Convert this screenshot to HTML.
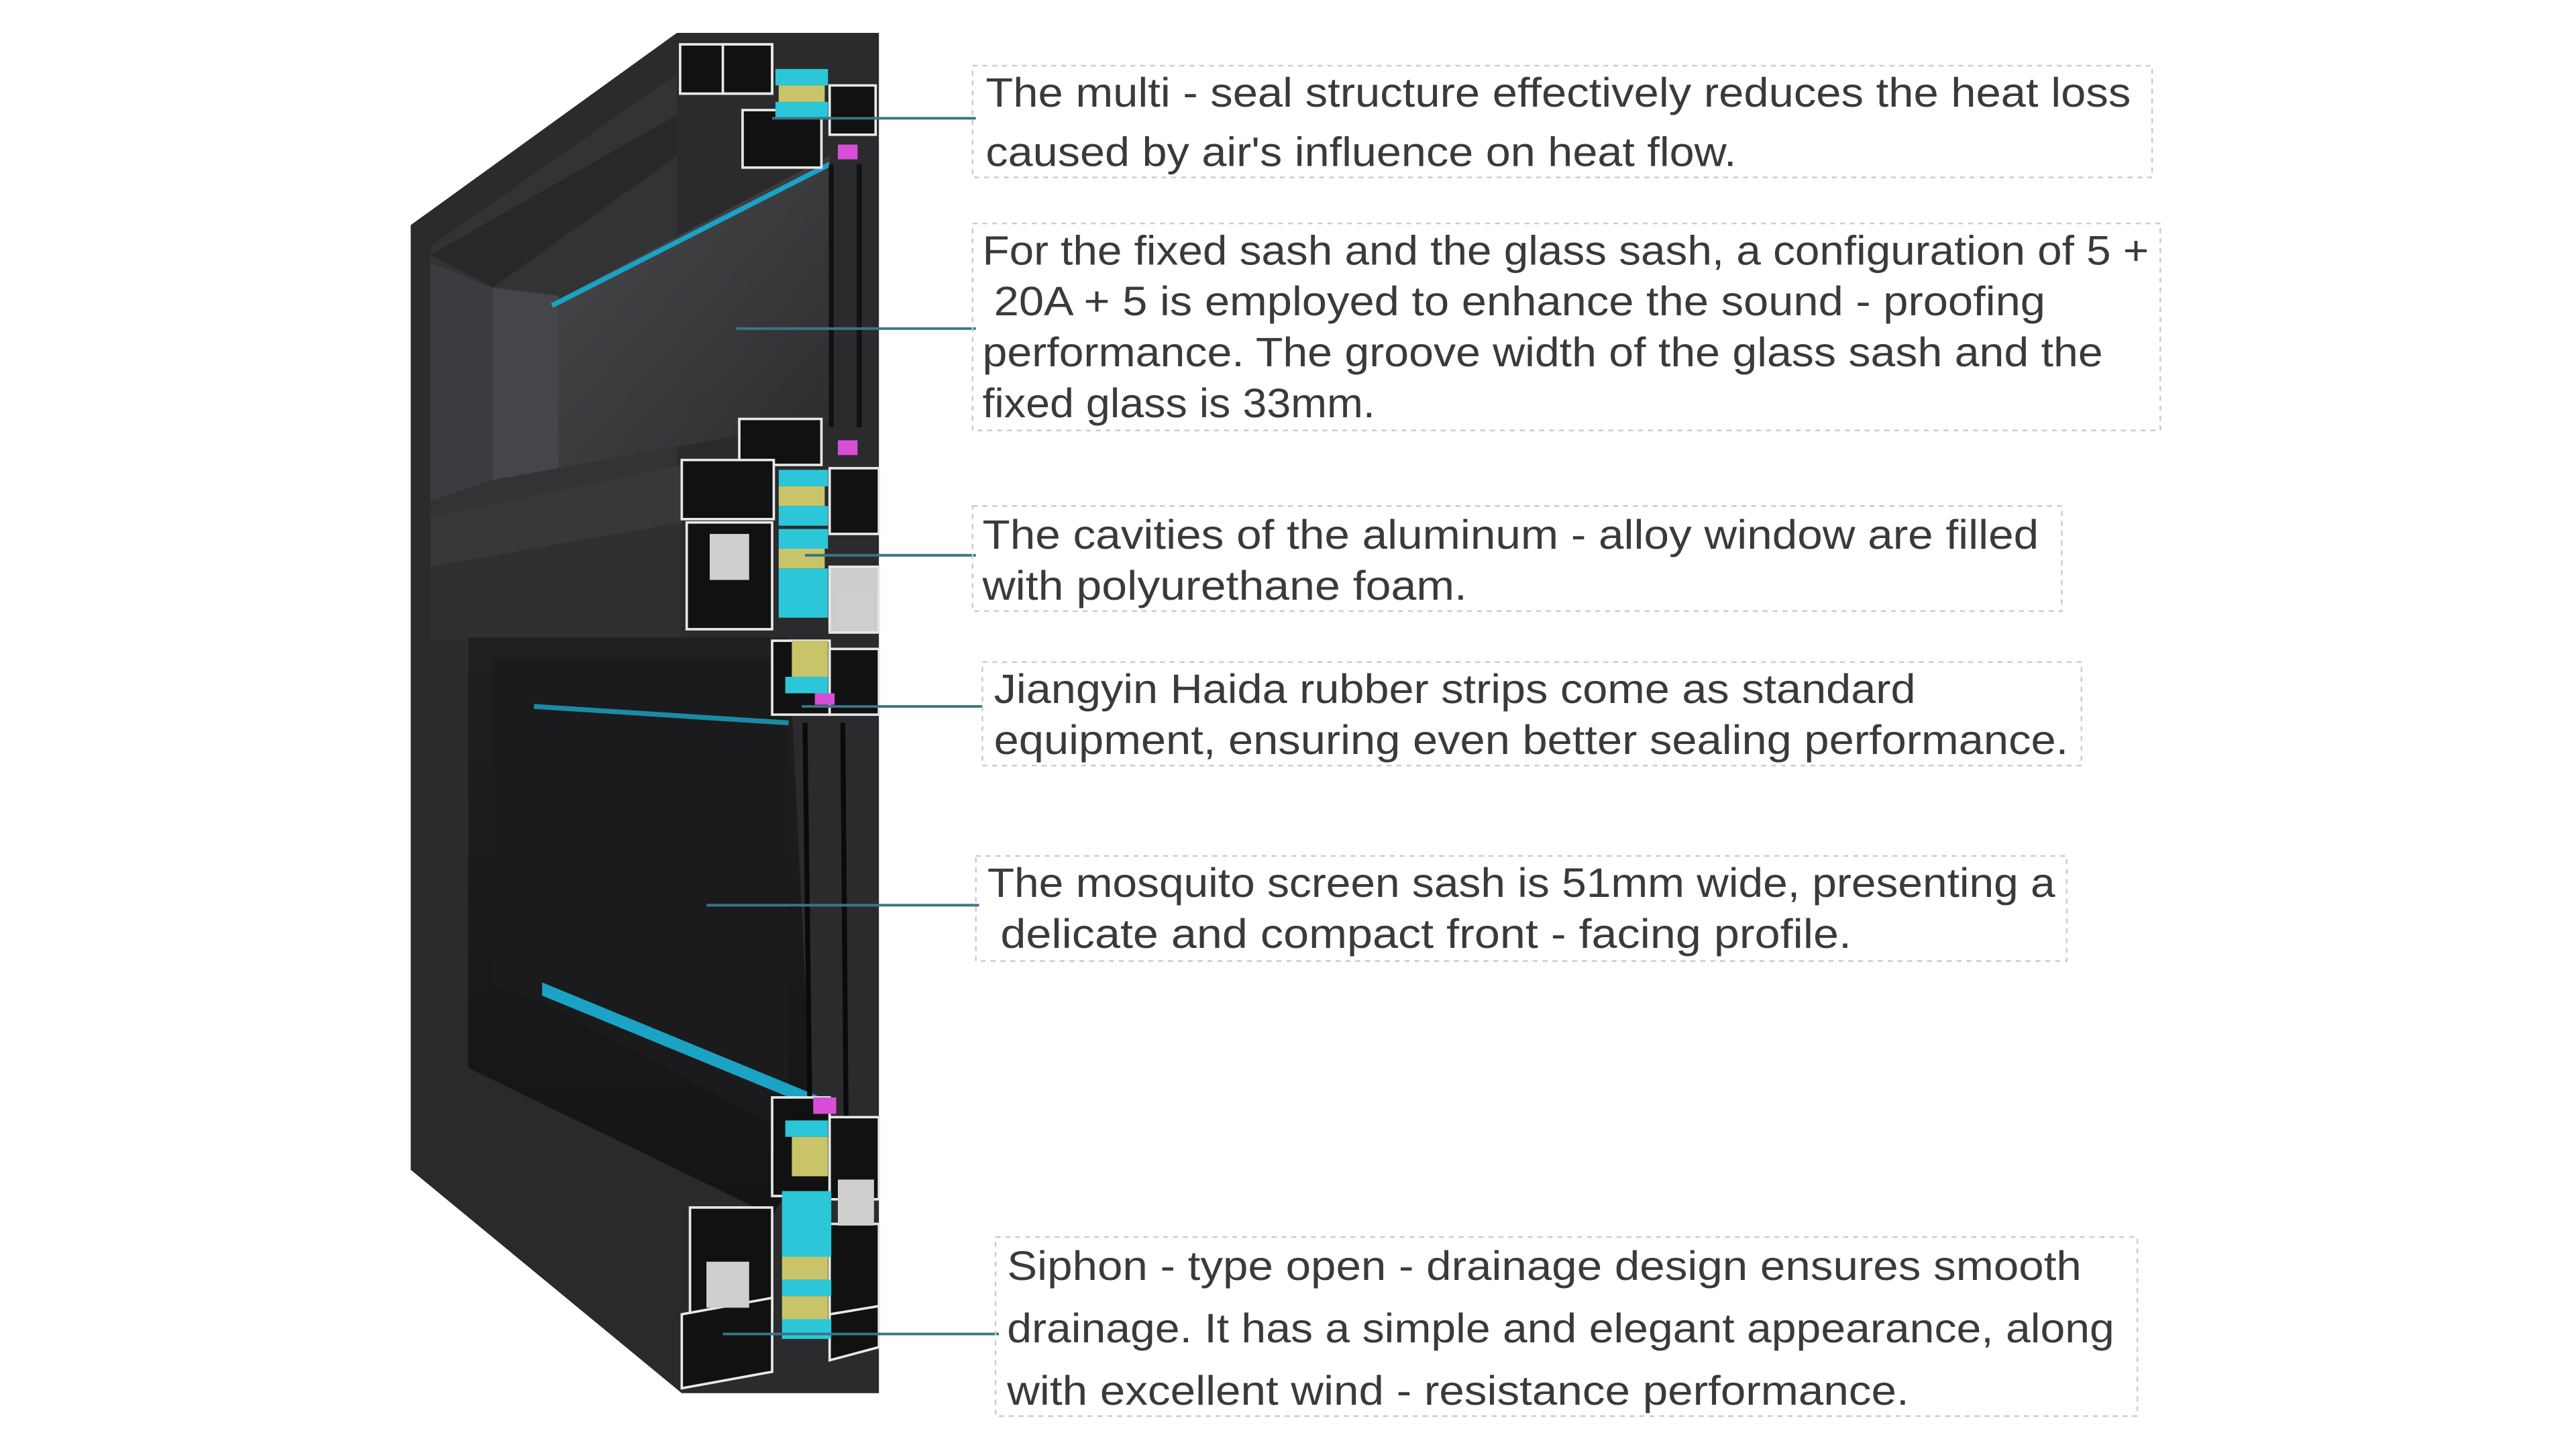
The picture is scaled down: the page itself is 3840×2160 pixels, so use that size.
<!DOCTYPE html>
<html><head><meta charset="utf-8"><style>
html,body{margin:0;padding:0;background:#fff;width:3840px;height:2160px;overflow:hidden}
svg{display:block}
text{font-family:"Liberation Sans",sans-serif;font-size:25px;fill:#3a3a3c}
</style></head><body>
<svg width="3840" height="2160" viewBox="0 0 1568 882" preserveAspectRatio="none">
<defs>
<linearGradient id="glass" x1="0" y1="0" x2="1" y2="1"><stop offset="0" stop-color="#4a4a4d"/><stop offset="1" stop-color="#2c2c2f"/></linearGradient>
<linearGradient id="glass2" x1="0" y1="0" x2="0" y2="1"><stop offset="0" stop-color="#202022"/><stop offset="1" stop-color="#141416"/></linearGradient>
</defs>
<rect width="1568" height="882" fill="#fff"/>
<!-- body -->
<polygon points="250,137 412,20 535,20 535,848 415,848 250,712" fill="#2b2b2d"/>
<polygon points="262,150 412,45 412,290 262,320" fill="#333336"/>
<!-- upper glass recess -->
<polygon points="262,160 300,175 300,292 262,305" fill="#3c3c40"/>
<polygon points="300,175 340,180 340,285 300,292" fill="#45454a"/>
<polygon points="340,182 505,95 505,255 340,285" fill="url(#glass)"/>
<polygon points="262,155 412,70 412,95 300,175" fill="#28282a"/>
<line x1="336" y1="186" x2="505" y2="100" stroke="#1aa3c4" stroke-width="3"/>
<!-- transom -->
<polygon points="262,315 415,283 415,318 262,345" fill="#38383b"/>
<!-- lower opening -->
<polygon points="262,345 415,318 415,390 262,390" fill="#2f2f32"/>
<polygon points="285,388 480,388 495,700 470,740 285,650" fill="url(#glass2)"/>
<polygon points="300,400 480,400 480,690 330,610 300,600" fill="#1b1b1d"/>
<polygon points="262,712 285,650 470,740 415,848 250,712" fill="#2a2a2c"/>
<polygon points="330,598 500,668 500,676 330,606" fill="#1aa3c4"/>
<line x1="325" y1="430" x2="480" y2="440" stroke="#1a8aa6" stroke-width="3"/>
<!-- glass panes vertical -->
<line x1="506" y1="100" x2="506" y2="260" stroke="#111" stroke-width="3"/>
<line x1="523" y1="100" x2="523" y2="260" stroke="#111" stroke-width="3"/>
<line x1="490" y1="440" x2="493" y2="680" stroke="#0a0a0a" stroke-width="3"/>
<line x1="513" y1="440" x2="515" y2="680" stroke="#0a0a0a" stroke-width="3"/>
<!-- top profile -->
<g stroke="#e8e8e8" stroke-width="1.5">
<rect x="414" y="27" width="56" height="30" fill="#111"/>
<rect x="440" y="27" width="30" height="30" fill="none"/>
<rect x="505" y="52" width="28" height="30" fill="#111"/>
<rect x="452" y="67" width="48" height="35" fill="#111"/>
</g>
<rect x="472" y="42" width="32" height="10" fill="#2bc7d9"/>
<rect x="474" y="52" width="28" height="10" fill="#c9c46a"/>
<rect x="472" y="62" width="32" height="10" fill="#2bc7d9"/>
<rect x="510" y="88" width="12" height="9" fill="#d64fd6"/>
<!-- middle profile -->
<g stroke="#e8e8e8" stroke-width="1.5">
<rect x="450" y="255" width="50" height="28" fill="#111"/>
<rect x="415" y="280" width="56" height="36" fill="#111"/>
<rect x="505" y="285" width="30" height="40" fill="#111"/>
<rect x="418" y="318" width="52" height="65" fill="#111"/>
<rect x="505" y="345" width="30" height="40" fill="#ccc"/>
<rect x="470" y="390" width="35" height="45" fill="#111"/>
<rect x="505" y="395" width="30" height="40" fill="#111"/>
</g>
<rect x="432" y="325" width="24" height="28" fill="#cfcfcf"/>
<rect x="510" y="360" width="22" height="24" fill="#cfcfcf"/>
<rect x="474" y="286" width="30" height="10" fill="#2bc7d9"/>
<rect x="474" y="296" width="28" height="12" fill="#c9c46a"/>
<rect x="474" y="308" width="30" height="12" fill="#2bc7d9"/>
<rect x="474" y="322" width="30" height="12" fill="#2bc7d9"/>
<rect x="474" y="334" width="28" height="12" fill="#c9c46a"/>
<rect x="474" y="346" width="30" height="30" fill="#2bc7d9"/>
<rect x="482" y="390" width="22" height="22" fill="#c9c46a"/>
<rect x="478" y="412" width="26" height="10" fill="#2bc7d9"/>
<rect x="510" y="268" width="12" height="9" fill="#d64fd6"/>
<rect x="496" y="422" width="12" height="7" fill="#d64fd6"/>
<!-- bottom profile -->
<g stroke="#e8e8e8" stroke-width="1.5">
<rect x="470" y="668" width="35" height="60" fill="#111"/>
<rect x="505" y="680" width="30" height="50" fill="#111"/>
<rect x="420" y="735" width="50" height="65" fill="#111"/>
<rect x="505" y="745" width="30" height="55" fill="#111"/>
<polygon points="415,800 470,790 470,835 415,845" fill="#111"/>
<polygon points="505,800 535,795 535,820 505,828" fill="#111"/>
</g>
<rect x="430" y="768" width="26" height="28" fill="#cfcfcf"/>
<rect x="510" y="718" width="22" height="28" fill="#cfcfcf"/>
<rect x="495" y="668" width="14" height="10" fill="#d64fd6"/>
<rect x="478" y="682" width="26" height="10" fill="#2bc7d9"/>
<rect x="482" y="692" width="22" height="24" fill="#c9c46a"/>
<rect x="476" y="725" width="30" height="30" fill="#2bc7d9"/>
<rect x="476" y="755" width="30" height="10" fill="#2bc7d9"/>
<rect x="476" y="765" width="28" height="14" fill="#c9c46a"/>
<rect x="476" y="779" width="30" height="10" fill="#2bc7d9"/>
<rect x="476" y="789" width="28" height="14" fill="#c9c46a"/>
<rect x="476" y="803" width="30" height="12" fill="#2bc7d9"/>
<!-- connectors -->
<g stroke="#3a7585" stroke-width="1.6">
<line x1="470" y1="72" x2="594" y2="72"/>
<line x1="448" y1="200" x2="594" y2="200"/>
<line x1="490" y1="338" x2="594" y2="338"/>
<line x1="488" y1="430" x2="598" y2="430"/>
<line x1="430" y1="551" x2="596" y2="551"/>
<line x1="440" y1="812" x2="608" y2="812"/>
</g>
<!-- boxes -->
<g fill="none" stroke="#c8cbd0" stroke-width="1" stroke-dasharray="3,3">
<rect x="592" y="40" width="718" height="68"/>
<rect x="592" y="136" width="723" height="126"/>
<rect x="592" y="308" width="663" height="64"/>
<rect x="598" y="403" width="669" height="63"/>
<rect x="594" y="521" width="664" height="64"/>
<rect x="606" y="753" width="695" height="109"/>
</g>
<text x="600" y="65" textLength="697" lengthAdjust="spacingAndGlyphs">The multi - seal structure effectively reduces the heat loss</text>
<text x="600" y="101" textLength="457" lengthAdjust="spacingAndGlyphs">caused by air's influence on heat flow.</text>
<text x="598" y="161" textLength="710" lengthAdjust="spacingAndGlyphs">For the fixed sash and the glass sash, a configuration of 5 +</text>
<text x="605" y="192" textLength="640" lengthAdjust="spacingAndGlyphs">20A + 5 is employed to enhance the sound - proofing</text>
<text x="598" y="223" textLength="682" lengthAdjust="spacingAndGlyphs">performance. The groove width of the glass sash and the</text>
<text x="598" y="254" textLength="239" lengthAdjust="spacingAndGlyphs">fixed glass is 33mm.</text>
<text x="598" y="334" textLength="643" lengthAdjust="spacingAndGlyphs">The cavities of the aluminum - alloy window are filled</text>
<text x="598" y="365" textLength="295" lengthAdjust="spacingAndGlyphs">with polyurethane foam.</text>
<text x="605" y="428" textLength="561" lengthAdjust="spacingAndGlyphs">Jiangyin Haida rubber strips come as standard</text>
<text x="605" y="459" textLength="654" lengthAdjust="spacingAndGlyphs">equipment, ensuring even better sealing performance.</text>
<text x="601" y="546" textLength="650" lengthAdjust="spacingAndGlyphs">The mosquito screen sash is 51mm wide, presenting a</text>
<text x="609" y="577" textLength="518" lengthAdjust="spacingAndGlyphs">delicate and compact front - facing profile.</text>
<text x="613" y="779" textLength="654" lengthAdjust="spacingAndGlyphs">Siphon - type open - drainage design ensures smooth</text>
<text x="613" y="817" textLength="674" lengthAdjust="spacingAndGlyphs">drainage. It has a simple and elegant appearance, along</text>
<text x="613" y="855" textLength="549" lengthAdjust="spacingAndGlyphs">with excellent wind - resistance performance.</text>
</svg>
</body></html>
